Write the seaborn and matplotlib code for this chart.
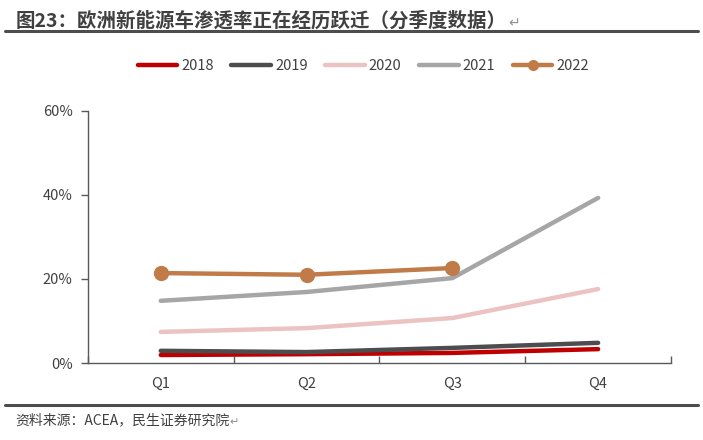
import numpy as np
import pandas as pd
import matplotlib
matplotlib.use("Agg")
import matplotlib.pyplot as plt
import seaborn as sns
from matplotlib.ticker import FuncFormatter, FixedLocator
from matplotlib.lines import Line2D

# =========================
# DATA (渗透率, %)
# =========================
quarters = ["Q1", "Q2", "Q3", "Q4"]
years    = ["2018", "2019", "2020", "2021", "2022"]

pen_2018 = [1.9, 2.1, 2.4, 3.3]
pen_2019 = [2.9, 2.6, 3.6, 4.8]
pen_2020 = [7.4, 8.3, 10.7, 17.6]
pen_2021 = [14.8, 16.9, 20.2, 39.3]
pen_2022 = [21.4, 21.0, 22.6]

colors = ["#C00000", "#4D4D4F", "#EBC3C3", "#A6A6A6", "#C07B48"]

series = [pen_2018, pen_2019, pen_2020, pen_2021, pen_2022]

# =========================
# STYLE
# =========================
sns.set_style("white")
plt.rcParams["font.family"] = ["Noto Sans CJK SC", "DejaVu Sans"]
TXT = "#404040"
AX  = "#595959"

fig = plt.figure(figsize=(7.03, 4.40), dpi=100)
ax = fig.add_axes([0.125, 0.175, 0.8295, 0.573])

# =========================
# LINES
# =========================
for yr, vals, c in zip(years, series, colors):
    sns.lineplot(x=quarters[:len(vals)], y=vals, ax=ax, color=c, lw=3.2,
                 marker="o" if yr == "2022" else None, markersize=11,
                 markeredgewidth=0, solid_capstyle="round", legend=False)

ax.set_xlim(-0.5, 3.5)
ax.set_ylim(0, 60)
ax.yaxis.set_major_locator(FixedLocator([0, 20, 40, 60]))
ax.yaxis.set_major_formatter(FuncFormatter(lambda v, _: f"{v:.0f}%"))
ax.set_xlabel("")
ax.set_ylabel("")

for s in ["top", "right"]:
    ax.spines[s].set_visible(False)
for s in ["left", "bottom"]:
    ax.spines[s].set_color(AX)
    ax.spines[s].set_linewidth(1.0)

ax.tick_params(axis="y", direction="out", length=5, color=AX, width=1,
               labelsize=10.5, labelcolor=TXT, left=True, pad=6)
ax.tick_params(axis="x", which="major", length=0, labelsize=10.5,
               labelcolor=TXT, pad=10)
ax.set_xticks([-0.5, 0.5, 1.5, 2.5, 3.5], minor=True)
ax.tick_params(axis="x", which="minor", direction="in", length=5,
               color=AX, width=1, bottom=True)
ax.grid(False)

# =========================
# LEGEND
# =========================
handles = [Line2D([], [], color=c, lw=3.2, solid_capstyle="round",
                  marker="o" if yr == "2022" else None, markersize=8,
                  markeredgewidth=0)
           for yr, c in zip(years, colors)]
fig.legend(handles, years, loc="center", bbox_to_anchor=(0.517, 0.849),
           ncol=5, frameon=False, fontsize=10.5, handlelength=2.7,
           handletextpad=0.3, columnspacing=1.2, labelcolor=TXT)

# =========================
# TITLE / SOURCE
# =========================
t = fig.text(0.022, 0.94, "图23：欧洲新能源车渗透率正在经历跃迁（分季度数据）",
             fontsize=14, fontweight="bold", color=TXT, va="baseline")
plt.annotate("↵", xy=(1, 0), xycoords=t, xytext=(1, 0),
             textcoords="offset points", fontsize=10, color="#909090",
             va="bottom")
fig.add_artist(Line2D([0.007, 0.993], [0.929, 0.929], color="#4D4D4D",
                      lw=2.2, transform=fig.transFigure))
fig.add_artist(Line2D([0.007, 0.993], [0.08, 0.08], color="#4D4D4D",
                      lw=2.2, transform=fig.transFigure))
s = fig.text(0.022, 0.035, "资料来源：ACEA，民生证券研究院",
             fontsize=10, color=TXT, va="baseline")
plt.annotate("↵", xy=(1, 0), xycoords=s, xytext=(0, 0),
             textcoords="offset points", fontsize=8, color="#909090",
             va="bottom")

fig.savefig("out.png", dpi=100)
